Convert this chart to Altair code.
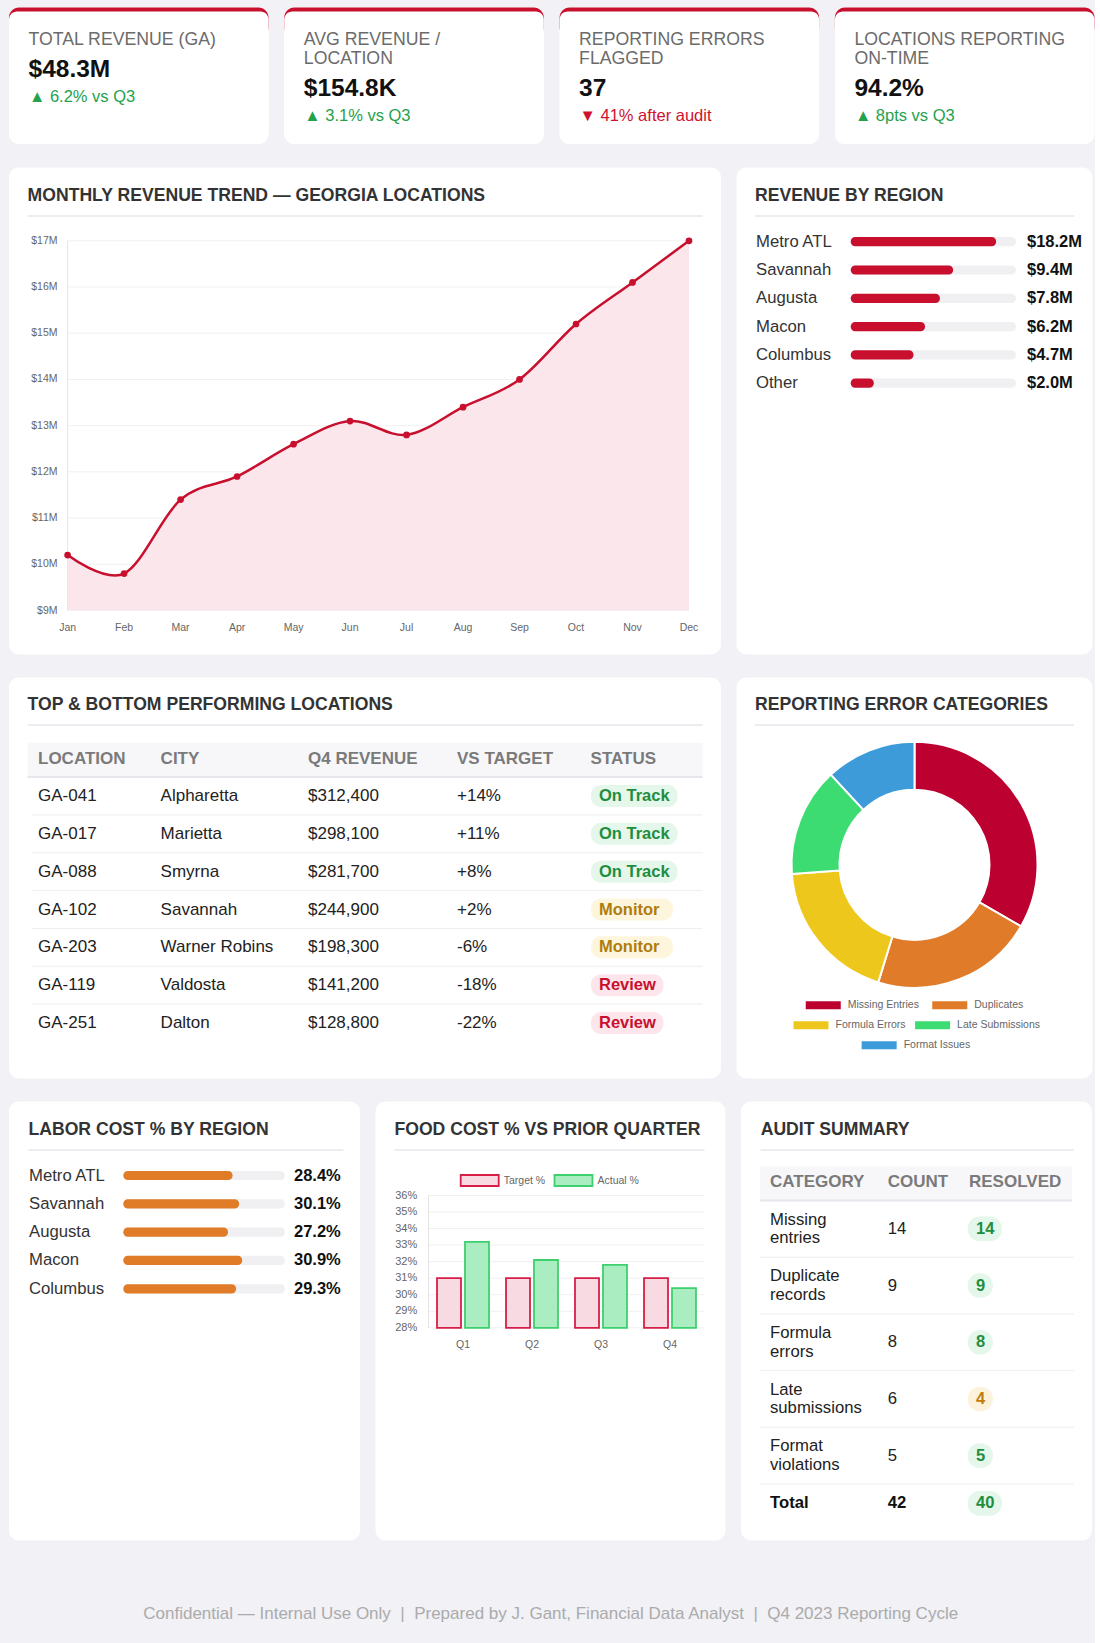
import altair as alt
import pandas as pd

FONT = "Liberation Sans"
BG = "#f1f1f6"
CRIMSON = "#c8102e"
GREEN = "#23a24d"
DOWN_RED = "#d0102e"
TITLE_C = "#333333"
TEXT_C = "#222222"
MUTED = "#6b6b6b"
HEAD_C = "#7a7a7a"
LINE_C = "#ededf1"
TRACK = "#f0f0f3"
ORANGE = "#e07b27"
TITLE_SIZE = 17.6
BODY = 17
HEAD_SIZE = 17

# ---------------- data ----------------
kpi_label_lines = [
    ["TOTAL REVENUE (GA)"],
    ["AVG REVENUE /", "LOCATION"],
    ["REPORTING ERRORS", "FLAGGED"],
    ["LOCATIONS REPORTING", "ON-TIME"],
]
kpi_values = ["$48.3M", "$154.8K", "37", "94.2%"]
kpi_deltas = ["6.2% vs Q3", "3.1% vs Q3", "41% after audit", "8pts vs Q3"]
kpi_up = [True, True, False, True]

months = ["Jan", "Feb", "Mar", "Apr", "May", "Jun", "Jul", "Aug", "Sep", "Oct", "Nov", "Dec"]
monthly_revenue_m = [10.2, 9.8, 11.4, 11.9, 12.6, 13.1, 12.8, 13.4, 14.0, 15.2, 16.1, 17.0]
revenue_ticks_m = [9, 10, 11, 12, 13, 14, 15, 16, 17]

regions = ["Metro ATL", "Savannah", "Augusta", "Macon", "Columbus", "Other"]
region_revenue_m = [18.2, 9.4, 7.8, 6.2, 4.7, 2.0]
region_bar_pct = [88, 62, 54, 45, 38, 14]

table_headers = ["LOCATION", "CITY", "Q4 REVENUE", "VS TARGET", "STATUS"]
location_ids = ["GA-041", "GA-017", "GA-088", "GA-102", "GA-203", "GA-119", "GA-251"]
location_cities = ["Alpharetta", "Marietta", "Smyrna", "Savannah", "Warner Robins", "Valdosta", "Dalton"]
location_q4_revenue = [312400, 298100, 281700, 244900, 198300, 141200, 128800]
location_vs_target = [14, 11, 8, 2, -6, -18, -22]
location_status = ["On Track", "On Track", "On Track", "Monitor", "Monitor", "Review", "Review"]
status_levels = ["On Track", "Monitor", "Review"]

error_categories = ["Missing Entries", "Duplicates", "Formula Errors", "Late Submissions", "Format Issues"]
error_counts = [14, 9, 8, 6, 5]
error_colors = ["#bc0030", "#e07b2a", "#eec71c", "#3ddc73", "#3d9bd9"]

labor_regions = ["Metro ATL", "Savannah", "Augusta", "Macon", "Columbus"]
labor_cost_pct = [28.4, 30.1, 27.2, 30.9, 29.3]
labor_scale_max = 42

quarters = ["Q1", "Q2", "Q3", "Q4"]
food_series = ["Target %", "Actual %"]
food_target_pct = [31, 31, 31, 31]
food_actual_pct = [33.2, 32.1, 31.8, 30.4]
food_ticks = [28, 29, 30, 31, 32, 33, 34, 35, 36]

audit_headers = ["CATEGORY", "COUNT", "RESOLVED"]
audit_categories = ["Missing entries", "Duplicate records", "Formula errors", "Late submissions", "Format violations"]
audit_counts = [14, 9, 8, 6, 5]
audit_resolved = [14, 9, 8, 4, 5]

footer_parts = ["Confidential \u2014 Internal Use Only",
                "Prepared by J. Gant, Financial Data Analyst",
                "Q4 2023 Reporting Cycle"]

RES = dict(fill="independent", color="independent", stroke="independent")


# ---------------- helpers ----------------
def df1(**kw):
    return pd.DataFrame({k: [v] for k, v in kw.items()})


def txt(text, x, y, size=BODY, color=TEXT_C, weight="normal", align="left"):
    return alt.Chart(df1(t=text)).mark_text(
        font=FONT, fontSize=size, color=color, fontWeight=weight, align=align, baseline="middle"
    ).encode(x=alt.value(x), y=alt.value(y), text="t:N")


def hrule(x1, x2, y, color=LINE_C, width=1):
    return alt.Chart(df1(a=0)).mark_rule(color=color, strokeWidth=width).encode(
        x=alt.value(x1), x2=alt.value(x2), y=alt.value(y))


def vrule(x, y1, y2, color, width=1):
    return alt.Chart(df1(a=0)).mark_rule(color=color, strokeWidth=width).encode(
        x=alt.value(x), y=alt.value(y1), y2=alt.value(y2))


def box(x1, x2, y1, y2, color, **kw):
    return alt.Chart(df1(a=0)).mark_rect(fill=color, **kw).encode(
        x=alt.value(x1), x2=alt.value(x2), y=alt.value(y1), y2=alt.value(y2))


def card(layers, w, h):
    return alt.layer(*layers).properties(
        width=w, height=h,
        view=alt.ViewBackground(fill="white", cornerRadius=10, strokeOpacity=0))


def heading(text, x, x_end, y=28, uy=48.5):
    return [txt(text, x, y, size=TITLE_SIZE, color=TITLE_C, weight="bold"), hrule(x, x_end, uy, LINE_C, 2)]


def bold_w(s, size=BODY):
    w = 0.0
    for ch in s:
        w += 0.278 if ch == " " else (0.556 if ch.isdigit() else 0.58)
    return w * size


def legend_rows(labels, center, max_w, box_w, text_gap, item_gap, char_w):
    items = [(lab, box_w + text_gap + len(lab) * char_w) for lab in labels]
    rows, cur, cur_w = [], [], 0.0
    for lab, w in items:
        add = w if not cur else item_gap + w
        if cur and cur_w + add > max_w:
            rows.append((cur, cur_w))
            cur, cur_w, add = [], 0.0, w
        cur.append((lab, w))
        cur_w += add
    if cur:
        rows.append((cur, cur_w))
    recs = []
    for r, (its, rw) in enumerate(rows):
        x = center - rw / 2
        for lab, w in its:
            recs.append(dict(cat=lab, row=r, bx0=x, bx1=x + box_w, tx=x + box_w + text_gap))
            x += w + item_gap
    return pd.DataFrame(recs)


# ---------------- KPI cards ----------------
KW, KH = 259.5, 136.5
kpi_cards = []
for lines, val, delta, up in zip(kpi_label_lines, kpi_values, kpi_deltas, kpi_up):
    off = 19.3 * (len(lines) - 1)
    layers = [
        box(0, KW, 0, 30, CRIMSON, cornerRadius=10),
        box(0, KW, 4, KH, "white", cornerRadiusTopLeft=8, cornerRadiusTopRight=8,
            cornerRadiusBottomLeft=10, cornerRadiusBottomRight=10),
    ]
    for j, ln in enumerate(lines):
        layers.append(txt(ln, 19.5, 32 + 19.3 * j, size=17.7, color=MUTED))
    layers.append(txt(val, 19.5, 62.5 + off, size=24.5, color="#111111", weight="bold"))
    layers.append(txt(("\u25B2 " if up else "\u25BC ") + delta, 20, 89 + off, size=16.5,
                      color=GREEN if up else DOWN_RED))
    kpi_cards.append(card(layers, KW, KH))

# ---------------- monthly revenue line ----------------
LW, LH = 712, 487
lx = alt.Scale(domain=[0, 11], range=[58.6, 680], nice=False, zero=False)
ly = alt.Scale(domain=[9, 17], range=[443, 73.3], nice=False, zero=False)
rev_df = pd.DataFrame({"i": list(range(len(months))), "month": months, "rev": monthly_revenue_m})
tick_df = pd.DataFrame({"v": revenue_ticks_m, "lab": [f"${v}M" for v in revenue_ticks_m]})
X_l = alt.X("i:Q", scale=lx, axis=None)
Y_l = alt.Y("rev:Q", scale=ly, axis=None)
line_layers = heading("MONTHLY REVENUE TREND \u2014 GEORGIA LOCATIONS", 18.6, 693.6) + [
    alt.Chart(tick_df).mark_rule(color="#f1f1f3").encode(
        y=alt.Y("v:Q", scale=ly, axis=None), x=alt.value(58.6), x2=alt.value(680)),
    vrule(58.6, 73.3, 443, "#e6e6e8"),
    alt.Chart(rev_df).mark_area(color="#fbe6eb", interpolate="cardinal", tension=0).encode(
        x=X_l, y=Y_l, y2=alt.datum(9)),
    alt.Chart(rev_df).mark_line(color=CRIMSON, strokeWidth=2.5, interpolate="cardinal", tension=0).encode(
        x=X_l, y=Y_l),
    alt.Chart(rev_df).mark_circle(color=CRIMSON, size=45, opacity=1).encode(x=X_l, y=Y_l),
    alt.Chart(tick_df).mark_text(font=FONT, fontSize=10.5, color="#666666", align="right", baseline="middle").encode(
        x=alt.value(48.5), y=alt.Y("v:Q", scale=ly, axis=None), text="lab:N"),
    alt.Chart(rev_df).mark_text(font=FONT, fontSize=10.5, color="#666666", align="center", baseline="middle").encode(
        x=X_l, y=alt.value(460), text="month:N"),
]
line_card = card(line_layers, LW, LH)

# ---------------- revenue by region ----------------
RW = 356
rx = alt.Scale(domain=[0, 100], range=[114.2, 279.5], nice=False, zero=False)
ry = alt.Scale(domain=[0, len(regions) - 1], range=[74.2, 215.7], nice=False, zero=False)
reg_df = pd.DataFrame({"i": list(range(len(regions))), "region": regions,
                       "pct": region_bar_pct, "zero": 0, "full": 100,
                       "lab": ["$%.1fM" % v for v in region_revenue_m]})
hb = 4.6 / 28.3
reg_base = alt.Chart(reg_df).transform_calculate(y0=f"datum.i - {hb}", y1=f"datum.i + {hb}")
region_layers = heading("REVENUE BY REGION", 18.5, 337.5) + [
    reg_base.mark_rect(fill=TRACK, cornerRadius=4.5).encode(
        x=alt.X("zero:Q", scale=rx, axis=None), x2="full",
        y=alt.Y("y0:Q", scale=ry, axis=None), y2="y1"),
    reg_base.mark_rect(fill=CRIMSON, cornerRadius=4.5).encode(
        x=alt.X("zero:Q", scale=rx, axis=None), x2="pct",
        y=alt.Y("y0:Q", scale=ry, axis=None), y2="y1"),
    alt.Chart(reg_df).mark_text(font=FONT, fontSize=16.7, color=TITLE_C, align="left", baseline="middle").encode(
        x=alt.value(19.5), y=alt.Y("i:Q", scale=ry, axis=None), text="region:N"),
    alt.Chart(reg_df).mark_text(font=FONT, fontSize=16.5, fontWeight="bold", color="#111111",
                                align="left", baseline="middle").encode(
        x=alt.value(290.5), y=alt.Y("i:Q", scale=ry, axis=None), text="lab:N"),
]
region_card = card(region_layers, RW, LH)

# ---------------- top & bottom locations table ----------------
TW, TH = 712, 401
col_x = [29, 151.6, 299, 448, 581.6]
ty = alt.Scale(domain=[0, len(location_ids) - 1], range=[118.5, 345.5], nice=False, zero=False)
loc_df = pd.DataFrame({
    "i": list(range(len(location_ids))), "id": location_ids, "city": location_cities,
    "rev": [f"${v:,}" for v in location_q4_revenue],
    "vt": [f"{v:+d}%" for v in location_vs_target],
    "status": location_status,
})
loc_df["bx0"] = 582.0
loc_df["bx1"] = [582.0 + 15 + bold_w(s, 16.5) for s in location_status]
sep_df = pd.DataFrame({"s": [i + 0.5 for i in range(len(location_ids) - 1)]})
Y_t = alt.Y("i:Q", scale=ty, axis=None)
table_layers = heading("TOP & BOTTOM PERFORMING LOCATIONS", 18.6, 693.6, y=27.5, uy=47.5) + [
    box(18.6, 693.6, 65.2, 99.5, "#f7f7fa"),
    hrule(18.6, 693.6, 99.5, "#e6e6ec", 2),
    alt.Chart(sep_df).mark_rule(color="#eeeeef").encode(
        y=alt.Y("s:Q", scale=ty, axis=None), x=alt.value(22.7), x2=alt.value(693.6)),
]
for h, x in zip(table_headers, col_x):
    table_layers.append(txt(h, x, 81.2, size=HEAD_SIZE, color=HEAD_C, weight="bold"))
for field, x in zip(["id", "city", "rev", "vt"], col_x[:4]):
    table_layers.append(
        alt.Chart(loc_df).mark_text(font=FONT, fontSize=BODY, color=TEXT_C, align="left", baseline="middle").encode(
            x=alt.value(x), y=Y_t, text=f"{field}:N"))
table_layers += [
    alt.Chart(loc_df).transform_calculate(y0="datum.i - 0.29", y1="datum.i + 0.29").mark_rect(cornerRadius=10).encode(
        x=alt.X("bx0:Q", scale=None, axis=None), x2="bx1",
        y=alt.Y("y0:Q", scale=ty, axis=None), y2="y1",
        fill=alt.Fill("status:N", scale=alt.Scale(domain=status_levels,
                                                  range=["#e5f6ea", "#fdf5dc", "#fde6eb"]), legend=None)),
    alt.Chart(loc_df).mark_text(font=FONT, fontSize=16.5, fontWeight="bold", align="left", baseline="middle").encode(
        x=alt.value(590), y=Y_t, text="status:N",
        color=alt.Color("status:N", scale=alt.Scale(domain=status_levels,
                                                    range=["#1e8e3e", "#b07c0c", "#c8102e"]), legend=None)),
]
table_card = card(table_layers, TW, TH)

# ---------------- error categories donut ----------------
don_df = pd.DataFrame({"idx": list(range(len(error_categories))), "cat": error_categories, "count": error_counts})
dcol = alt.Scale(domain=error_categories, range=error_colors)
leg = legend_rows(error_categories, center=178, max_w=319, box_w=35, text_gap=7, item_gap=11, char_w=4.9)
leg["ly"] = 327.8 + leg["row"] * 20
leg["ly0"] = leg["ly"] - 4
leg["ly1"] = leg["ly"] + 4
donut_layers = heading("REPORTING ERROR CATEGORIES", 18.5, 337.5, y=27.5, uy=47.5) + [
    alt.Chart(don_df).mark_arc(innerRadius=75, outerRadius=123, stroke="white", strokeWidth=2).encode(
        theta=alt.Theta("count:Q", stack=True), order=alt.Order("idx:Q"),
        fill=alt.Fill("cat:N", scale=dcol, legend=None),
        x=alt.value(178), y=alt.value(187.3)),
    alt.Chart(leg).mark_rect().encode(
        x=alt.X("bx0:Q", scale=None, axis=None), x2="bx1",
        y=alt.Y("ly0:Q", scale=None, axis=None), y2="ly1",
        fill=alt.Fill("cat:N", scale=dcol, legend=None)),
    alt.Chart(leg).mark_text(font=FONT, fontSize=10.5, color="#666666", align="left", baseline="middle").encode(
        x=alt.X("tx:Q", scale=None, axis=None), y=alt.Y("ly:Q", scale=None, axis=None), text="cat:N"),
]
donut_card = card(donut_layers, RW, TH)

# ---------------- labor cost ----------------
BW, BH = 351, 439
lbx = alt.Scale(domain=[0, labor_scale_max], range=[114.3, 276], nice=False, zero=False)
lby = alt.Scale(domain=[0, len(labor_regions) - 1], range=[74, 187.3], nice=False, zero=False)
lab_df = pd.DataFrame({"i": list(range(len(labor_regions))), "region": labor_regions,
                       "pct": labor_cost_pct, "zero": 0, "full": labor_scale_max,
                       "lab": [f"{v:.1f}%" for v in labor_cost_pct]})
lab_base = alt.Chart(lab_df).transform_calculate(y0=f"datum.i - {hb}", y1=f"datum.i + {hb}")
labor_layers = heading("LABOR COST % BY REGION", 19.5, 334.3) + [
    lab_base.mark_rect(fill=TRACK, cornerRadius=4.5).encode(
        x=alt.X("zero:Q", scale=lbx, axis=None), x2="full",
        y=alt.Y("y0:Q", scale=lby, axis=None), y2="y1"),
    lab_base.mark_rect(fill=ORANGE, cornerRadius=4.5).encode(
        x=alt.X("zero:Q", scale=lbx, axis=None), x2="pct",
        y=alt.Y("y0:Q", scale=lby, axis=None), y2="y1"),
    alt.Chart(lab_df).mark_text(font=FONT, fontSize=16.7, color=TITLE_C, align="left", baseline="middle").encode(
        x=alt.value(20), y=alt.Y("i:Q", scale=lby, axis=None), text="region:N"),
    alt.Chart(lab_df).mark_text(font=FONT, fontSize=16.5, fontWeight="bold", color="#111111",
                                align="left", baseline="middle").encode(
        x=alt.value(285), y=alt.Y("i:Q", scale=lby, axis=None), text="lab:N"),
]
labor_card = card(labor_layers, BW, BH)

# ---------------- food cost grouped bars ----------------
FW = 350
fx = alt.Scale(domain=quarters, range=[53, 329], paddingInner=0, paddingOuter=0)
fo = alt.Scale(domain=food_series, paddingInner=0.143, paddingOuter=0.304)
fy = alt.Scale(domain=[28, 36], range=[226.3, 94], nice=False, zero=False)
ffill = alt.Scale(domain=food_series, range=["#f8dbe2", "#aaedc1"])
fstroke = alt.Scale(domain=food_series, range=["#d81e48", "#3ecf6e"])
food_df = pd.DataFrame({
    "quarter": quarters * 2,
    "series": [food_series[0]] * 4 + [food_series[1]] * 4,
    "val": food_target_pct + food_actual_pct,
})
ftick_df = pd.DataFrame({"v": food_ticks, "lab": [f"{v}%" for v in food_ticks]})
fleg = legend_rows(food_series, center=174, max_w=300, box_w=38, text_gap=5, item_gap=10, char_w=5.1)
fleg["series"] = fleg["cat"]
fleg["ly"] = 79.0
fleg["ly0"] = 73.5
fleg["ly1"] = 84.5
food_layers = heading("FOOD COST % VS PRIOR QUARTER", 19, 329) + [
    alt.Chart(ftick_df).mark_rule(color="#f0f0f2").encode(
        y=alt.Y("v:Q", scale=fy, axis=None), x=alt.value(53), x2=alt.value(329)),
    vrule(53, 94, 226.3, "#e4e4e6"),
    alt.Chart(food_df).mark_bar(strokeWidth=1.8).encode(
        x=alt.X("quarter:N", scale=fx, axis=None, sort=quarters),
        xOffset=alt.XOffset("series:N", scale=fo, sort=food_series),
        y=alt.Y("val:Q", scale=fy, axis=None), y2=alt.datum(28),
        fill=alt.Fill("series:N", scale=ffill, legend=None),
        stroke=alt.Stroke("series:N", scale=fstroke, legend=None)),
    alt.Chart(ftick_df).mark_text(font=FONT, fontSize=11, color="#666666", align="right", baseline="middle").encode(
        x=alt.value(41.7), y=alt.Y("v:Q", scale=fy, axis=None), text="lab:N"),
    alt.Chart(pd.DataFrame({"quarter": quarters})).mark_text(
        font=FONT, fontSize=10.5, color="#666666", align="center", baseline="middle").encode(
        x=alt.X("quarter:N", scale=fx, axis=None, sort=quarters), y=alt.value(243), text="quarter:N"),
    alt.Chart(fleg).mark_rect(strokeWidth=1.8).encode(
        x=alt.X("bx0:Q", scale=None, axis=None), x2="bx1",
        y=alt.Y("ly0:Q", scale=None, axis=None), y2="ly1",
        fill=alt.Fill("series:N", scale=ffill, legend=None),
        stroke=alt.Stroke("series:N", scale=fstroke, legend=None)),
    alt.Chart(fleg).mark_text(font=FONT, fontSize=10.5, color="#666666", align="left", baseline="middle").encode(
        x=alt.X("tx:Q", scale=None, axis=None), y=alt.Y("ly:Q", scale=None, axis=None), text="cat:N"),
]
food_card = card(food_layers, FW, BH)

# ---------------- audit summary table ----------------
a_col = [29, 146.7, 228]
line_recs, row_recs, sep_ys = [], [], []
y = 99.0
for cat, cnt, res in zip(audit_categories, audit_counts, audit_resolved):
    h = 56.7
    c = y + h / 2
    for j, part in enumerate(cat.split(" ", 1)):
        line_recs.append(dict(t=part, y=c - 9.35 + 18.7 * j))
    row_recs.append(dict(y=c, cnt=str(cnt), res=str(res), ok="full" if res == cnt else "partial", weight="normal"))
    y += h
    sep_ys.append(y)
h = 38.8
c_total = y + h / 2
tot_cnt, tot_res = sum(audit_counts), sum(audit_resolved)
row_recs.append(dict(y=c_total, cnt=str(tot_cnt), res=str(tot_res), ok="full", weight="bold"))
audit_lines = pd.DataFrame(line_recs)
audit_rows = pd.DataFrame(row_recs)
audit_rows["bx0"] = 226.7
audit_rows["bx1"] = [226.7 + 16 + bold_w(s, 16.5) for s in audit_rows["res"]]
audit_rows["by0"] = audit_rows["y"] - 12.3
audit_rows["by1"] = audit_rows["y"] + 12.3
audit_seps = pd.DataFrame({"y": sep_ys})
ok_scale_bg = alt.Scale(domain=["full", "partial"], range=["#e5f6ea", "#fdf3dc"])
ok_scale_fg = alt.Scale(domain=["full", "partial"], range=["#1e8e3e", "#c27d0e"])
Y_a = alt.Y("y:Q", scale=None, axis=None)
audit_layers = heading("AUDIT SUMMARY", 19.7, 333) + [
    box(19, 331, 65, 99, "#f7f7fa"),
    hrule(19, 331, 99, "#e6e6ec", 2),
    alt.Chart(audit_seps).mark_rule(color="#eeeeef").encode(y=Y_a, x=alt.value(19), x2=alt.value(333)),
]
for h_, x in zip(audit_headers, a_col):
    audit_layers.append(txt(h_, x, 80.7, size=HEAD_SIZE, color=HEAD_C, weight="bold"))
audit_layers += [
    alt.Chart(audit_lines).mark_text(font=FONT, fontSize=16.7, color=TEXT_C, align="left", baseline="middle").encode(
        x=alt.value(a_col[0]), y=Y_a, text="t:N"),
    txt("Total", a_col[0], c_total, size=16.7, color="#111111", weight="bold"),
    alt.Chart(audit_rows[audit_rows["weight"] == "normal"]).mark_text(
        font=FONT, fontSize=16.7, color=TEXT_C, align="left", baseline="middle").encode(
        x=alt.value(a_col[1]), y=Y_a, text="cnt:N"),
    alt.Chart(audit_rows[audit_rows["weight"] == "bold"]).mark_text(
        font=FONT, fontSize=16.7, fontWeight="bold", color="#111111", align="left", baseline="middle").encode(
        x=alt.value(a_col[1]), y=Y_a, text="cnt:N"),
    alt.Chart(audit_rows).mark_rect(cornerRadius=12).encode(
        x=alt.X("bx0:Q", scale=None, axis=None), x2="bx1",
        y=alt.Y("by0:Q", scale=None, axis=None), y2="by1",
        fill=alt.Fill("ok:N", scale=ok_scale_bg, legend=None)),
    alt.Chart(audit_rows).mark_text(font=FONT, fontSize=16.5, fontWeight="bold", align="left", baseline="middle").encode(
        x=alt.value(235), y=Y_a, text="res:N",
        color=alt.Color("ok:N", scale=ok_scale_fg, legend=None)),
]
audit_card = card(audit_layers, BW, BH)

# ---------------- footer ----------------
NB = "\u00a0"
footer_text = (NB * 2 + "|" + NB * 2).join(footer_parts)
footer = alt.Chart(df1(t=footer_text)).mark_text(
    font=FONT, fontSize=17, color="#ababab", align="center", baseline="middle"
).encode(x=alt.value(541.7), y=alt.value(50), text="t:N").properties(width=1084, height=80)

row1 = alt.hconcat(*kpi_cards, spacing=15.3, bounds="flush").resolve_scale(**RES)
row2 = alt.hconcat(line_card, region_card, spacing=15.5, bounds="flush").resolve_scale(**RES)
row3 = alt.hconcat(table_card, donut_card, spacing=15.5, bounds="flush").resolve_scale(**RES)
row4 = alt.hconcat(labor_card, food_card, audit_card, spacing=15.5, bounds="flush").resolve_scale(**RES)

chart = alt.vconcat(row1, row2, row3, row4, footer, spacing=23).resolve_scale(**RES).properties(
    background=BG,
    padding={"left": 9, "top": 7.5, "right": 0, "bottom": 0},
).configure_view(stroke=None)

chart.save("out.html", embed_options={"renderer": "svg", "actions": False})
